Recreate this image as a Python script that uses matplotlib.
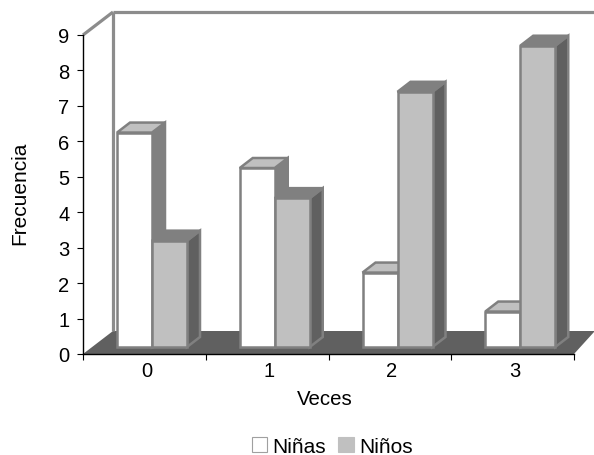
import matplotlib
matplotlib.use('Agg')

import matplotlib.pyplot as plt
from matplotlib.patches import Patch, Polygon

plt.rcParams['font.family'] = ['Liberation Sans', 'DejaVu Sans']

veces = ['0', '1', '2', '3']
ninas = [6.05, 5.05, 2.1, 1.0]
ninos = [3.0, 4.2, 7.2, 8.5]

W, H = 594, 456
fig = plt.figure(figsize=(W / 100., H / 100.), dpi=100)
ax = fig.add_axes([83. / W, 1 - 355. / H, 491. / W, 319. / H])
ax.set_xlim(0, 4)
ax.set_ylim(0, 9)

# 3d look is faked, so depth is given in axis units
ux = 491. / 4
uy = 319. / 9
dx_bar, dy_bar = 13. / ux, 10. / uy
dx_wall, dy_wall = 30. / ux, 23. / uy
lift = 7. / uy
bar_w = 35. / ux
gap = 34. / ux
edge = '#808080'
lw = 1.8


def poly(pts, fc, ec=edge, z=3, lw=lw):
    ax.add_patch(Polygon(pts, closed=True, facecolor=fc, edgecolor=ec, linewidth=lw,
                         joinstyle='miter', clip_on=False, zorder=z))


def bar3d(x, v, front, top, side):
    b = lift
    t = lift + v
    poly([(x + bar_w, b), (x + bar_w + dx_bar, b + dy_bar),
          (x + bar_w + dx_bar, t + dy_bar), (x + bar_w, t)], side)
    poly([(x, t), (x + dx_bar, t + dy_bar), (x + bar_w + dx_bar, t + dy_bar), (x + bar_w, t)], top)
    poly([(x, b), (x + bar_w, b), (x + bar_w, t), (x, t)], front)


# floor
ax.add_patch(Polygon([(0, 0), (dx_wall, dy_wall), (4 + 20. / ux, dy_wall),
                      (4 + 20. / ux, dy_wall - 1. / uy), (4, 0)],
                     closed=True, facecolor='#606060', edgecolor='none',
                     clip_on=False, zorder=1))

# walls
wall = dict(color='#8c8c8c', linewidth=2.3, clip_on=False, zorder=2, solid_capstyle='butt')
ax.plot([0, dx_wall], [9, 9 + dy_wall], **wall)
ax.plot([dx_wall, dx_wall], [dy_wall, 9 + dy_wall], **wall)
ax.plot([dx_wall, 4 + 20. / ux], [9 + dy_wall, 9 + dy_wall], **wall)

for i in range(len(veces)):
    x = i + gap
    bar3d(x, ninas[i], 'white', '#c0c0c0', '#808080')
    bar3d(x + bar_w, ninos[i], '#c0c0c0', '#808080', '#606060')

for s in ['top', 'right']:
    ax.spines[s].set_visible(False)
for s in ['left', 'bottom']:
    ax.spines[s].set_linewidth(1.0)
    ax.spines[s].set_zorder(5)

ax.set_yticks(range(10))
ax.set_xticks(range(5))
ax.set_xticklabels([])
ax.set_xticks([i + 0.5 + 2. / ux for i in range(len(veces))], minor=True)
ax.set_xticklabels(veces, minor=True)
ax.tick_params(axis='x', which='minor', length=0, labelsize=14.5, pad=5)
ax.tick_params(axis='x', which='major', length=4.3, width=0.8)
ax.tick_params(axis='y', length=4.3, width=0.8, labelsize=14.5, pad=5.5)

fig.text(325. / W, 1 - 400. / H, 'Veces', fontsize=14.7, ha='center', va='center')
fig.text(20. / W, 1 - 193.5 / H, 'Frecuencia', fontsize=15, rotation=90, ha='center', va='center')

handles = [Patch(facecolor='white', edgecolor='#a0a0a0', linewidth=0.8, label='Niñas'),
           Patch(facecolor='#c0c0c0', edgecolor='#c0c0c0', linewidth=0.8, label='Niños')]
fig.legend(handles=handles, loc='center', bbox_to_anchor=(332. / W, 1 - 447.5 / H), ncol=2,
           frameon=False, fontsize=15, handlelength=0.75, handleheight=0.75,
           handletextpad=0.25, columnspacing=0.58)

fig.savefig('out.png', dpi=100)
